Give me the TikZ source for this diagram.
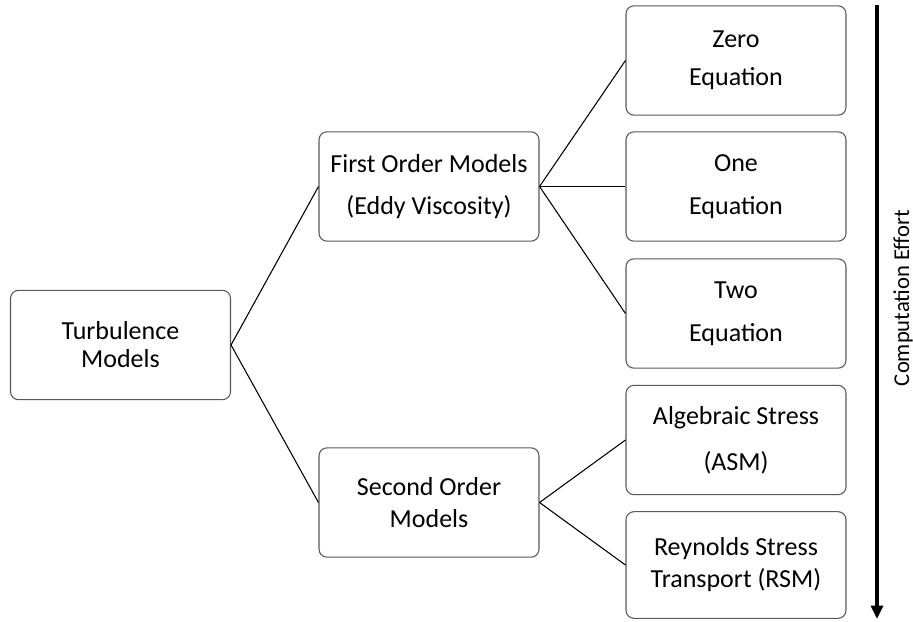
\documentclass[tikz,border=0pt]{standalone}
\usepackage{fontspec}
\setmainfont{Carlito}
\usetikzlibrary{arrows.meta}
\begin{document}
\begin{tikzpicture}[x=0.75pt,y=-0.75pt,
  box/.style={draw=black!65, line width=0.8pt, rounded corners=6pt, fill=white,
    minimum width=165pt, minimum height=82pt, align=center, inner sep=0pt,
    font=\fontsize{19.5}{24}\selectfont},
  conn/.style={draw=black, line width=0.8pt}]
\useasboundingbox (0,0) rectangle (913,621);
\node[box] (T) at (120.5,345) {Turbulence\\[-3pt]Models};
\node[box] (F) at (429,186.5) {First Order Models\\[8pt](Eddy Viscosity)};
\node[box] (S) at (429,502.5) {Second Order\\Models};
\node[box] (Z) at (736,60.5) {Zero\\[4.5pt]Equation};
\node[box] (O) at (736,186.5) {One\\[8pt]Equation};
\node[box] (W) at (736,313.5) {Two\\[8pt]Equation};
\node[box] (A) at (736,440) {Algebraic Stress\\[10.5pt](ASM)};
\node[box, minimum height=80pt] (R) at (736,565) {Reynolds Stress\\Transport (RSM)};
\draw[conn] (T.east) -- (F.west);
\draw[conn] (T.east) -- (S.west);
\draw[conn] (F.east) -- (Z.west);
\draw[conn] (F.east) -- (O.west);
\draw[conn] (F.east) -- (W.west);
\draw[conn] (S.east) -- (A.west);
\draw[conn] (S.east) -- (R.west);
\coordinate (a1) at (877,5);
\coordinate (a2) at (877,619);
\draw[line width=2.4pt, -{Triangle[length=10pt,width=9pt]}] (a1) -- (a2);
\node[rotate=90, font=\fontsize{17}{21}\selectfont] (E) at (903,298) {Computation Effort};
\end{tikzpicture}
\end{document}
